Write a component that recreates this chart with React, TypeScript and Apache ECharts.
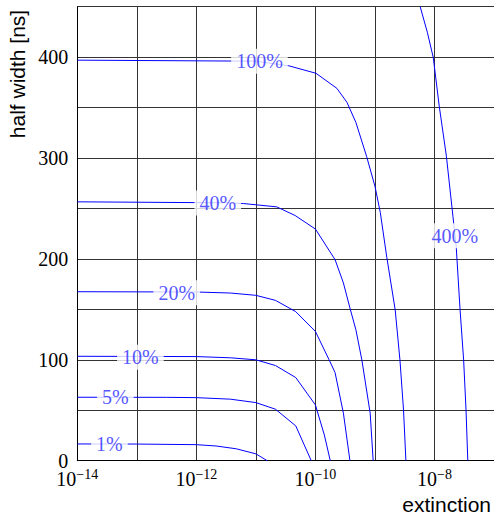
import React, { useEffect, useRef } from "react";
import * as echarts from "echarts";

// contour lines: [log10(extinction), half width in ns]
const curve1: number[][] = [[-14, 16.6], [-13, 16.5], [-12, 15.9], [-11.67, 14.6], [-11.33, 11.8], [-11, 6.8], [-10.81, 0]];
const curve5: number[][] = [[-14, 62.9], [-12.5, 62.8], [-12, 62.5], [-11.43, 61.0], [-11, 57.6], [-10.67, 51.0], [-10.33, 34.5], [-10.07, 0]];
const curve10: number[][] = [[-14, 103.5], [-12, 103.2], [-11.43, 102.0], [-11, 100.0], [-10.67, 94.3], [-10.33, 82.4], [-10, 55.3], [-9.85, 25.5], [-9.75, 0]];
const curve20: number[][] = [[-14, 167.5], [-12, 167.2], [-11.43, 166.2], [-11, 163.9], [-10.67, 158.9], [-10.33, 147.7], [-10, 128.1], [-9.77, 100], [-9.67, 87.4], [-9.53, 47.1], [-9.42, 0]];
const curve40: number[][] = [[-14, 256.6], [-11.5, 255.6], [-11.21, 254.9], [-10.65, 251.6], [-10.34, 243.0], [-10, 229.6], [-9.67, 199.3], [-9.53, 176.2], [-9.42, 151.3], [-9.32, 129.8], [-9.22, 99.9], [-9.08, 47.1], [-9.03, 0]];
const curve100: number[][] = [[-14, 397], [-11, 396], [-10.44, 391.3], [-9.99, 384.0], [-9.64, 369.1], [-9.47, 355.2], [-9.32, 335.3], [-9.14, 301.6], [-9.0, 272.1], [-8.91, 246.0], [-8.8, 201.3], [-8.66, 149.6], [-8.58, 99.9], [-8.52, 50.3], [-8.48, 0]];
const curve400: number[][] = [[-8.24, 450], [-8.12, 424.7], [-8.02, 399.6], [-7.92, 351.5], [-7.8, 301.9], [-7.69, 242.3], [-7.635, 212.5], [-7.57, 149.6], [-7.51, 99.9], [-7.47, 50.3], [-7.44, 0]];

const curves = [curve1, curve5, curve10, curve20, curve40, curve100, curve400];

// contour labels
const labelTexts = ["1%", "5%", "10%", "20%", "40%", "100%", "400%"];
const labelExp = [-13.46, -13.36, -12.94, -12.33, -11.64, -10.94, -7.66];
const labelVal = [16.3, 62.8, 102.5, 166.5, 255.5, 396, 223];

const xMinExp = -14;
const xMaxExp = -7;
const yMin = 0;
const yMax = 450;
const yStep = 50;

const SERIF = "Liberation Serif";
const SANS = "Liberation Sans";

export default function App() {
  const ref = useRef<HTMLDivElement>(null);
  useEffect(() => {
    if (!ref.current) return;
    const chart = echarts.init(ref.current, null, { renderer: "svg" });
    const lineSeries = curves.map((c, i) => ({
      type: "line",
      name: labelTexts[i],
      data: c.map((p) => [Math.pow(10, p[0]), p[1]]),
      showSymbol: false,
      symbol: "none",
      lineStyle: { color: "#0000ff", width: 1 },
      z: 3,
      clip: true,
    }));
    const option: any = {
      animation: false,
      backgroundColor: "#ffffff",
      textStyle: { fontFamily: SERIF },
      grid: {
        left: 77.3,
        right: 0,
        top: 6.7,
        bottom: 52.3,
        containLabel: false,
        outerBoundsMode: "none",
      },
      xAxis: {
        type: "log",
        logBase: 10,
        min: Math.pow(10, xMinExp),
        max: Math.pow(10, xMaxExp),
        axisLine: { show: true, onZero: false, lineStyle: { color: "#000", width: 1 } },
        axisTick: { show: false },
        minorTick: { show: false },
        splitLine: { show: true, lineStyle: { color: "#333", width: 1 } },
        axisLabel: {
          margin: 7,
          color: "#000",
          fontFamily: SERIF,
          formatter: (v: number) => {
            const e = Math.round(Math.log10(v));
            if (e % 2 !== 0) return "";
            return "{b|10}{e|\u2212" + Math.abs(e) + "}";
          },
          rich: {
            b: { fontFamily: SERIF, fontSize: 20, color: "#000", lineHeight: 22 },
            e: { fontFamily: SERIF, fontSize: 14, color: "#000", lineHeight: 12, verticalAlign: "top" },
          },
        },
      },
      yAxis: {
        type: "value",
        min: yMin,
        max: yMax,
        interval: yStep,
        axisLine: { show: true, onZero: false, lineStyle: { color: "#000", width: 1 } },
        axisTick: { show: false },
        splitLine: { show: true, lineStyle: { color: "#333", width: 1 } },
        axisLabel: {
          margin: 9,
          color: "#000",
          fontFamily: SERIF,
          fontSize: 20,
          formatter: (v: number) => (v % 100 === 0 ? String(v) : ""),
        },
      },
      series: [
        ...lineSeries,
        {
          type: "scatter",
          symbol: "circle",
          symbolSize: 2,
          itemStyle: { color: "rgba(255,255,255,0)" },
          z: 10,
          data: labelTexts.map((t, i) => ({
            value: [Math.pow(10, labelExp[i]), labelVal[i]],
            label: { formatter: t },
          })),
          label: {
            show: true,
            position: "inside",
            color: "#2a2aff",
            fontFamily: SERIF,
            fontSize: 20,
            backgroundColor: "#ffffff",
            padding: [3, 5, 2, 5],
          },
          labelLayout: { hideOverlap: false },
          emphasis: { disabled: true },
        },
      ],
      graphic: [
        {
          type: "text",
          x: 17,
          y: 74,
          rotation: Math.PI / 2,
          style: {
            text: "half width [ns]",
            fontFamily: SANS,
            fontSize: 21,
            fill: "#000",
            textAlign: "center",
            textVerticalAlign: "middle",
          },
        },
        {
          type: "text",
          x: 491,
          y: 504,
          style: {
            text: "extinction",
            fontFamily: SANS,
            fontSize: 21,
            fill: "#000",
            textAlign: "right",
            textVerticalAlign: "middle",
          },
        },
      ],
    };
    chart.setOption(option);
    return () => chart.dispose();
  }, []);
  return (
    <div
      ref={ref}
      style={{ position: "fixed", left: 0, top: 0, width: 494, height: 513, background: "#fff" }}
    />
  );
}
